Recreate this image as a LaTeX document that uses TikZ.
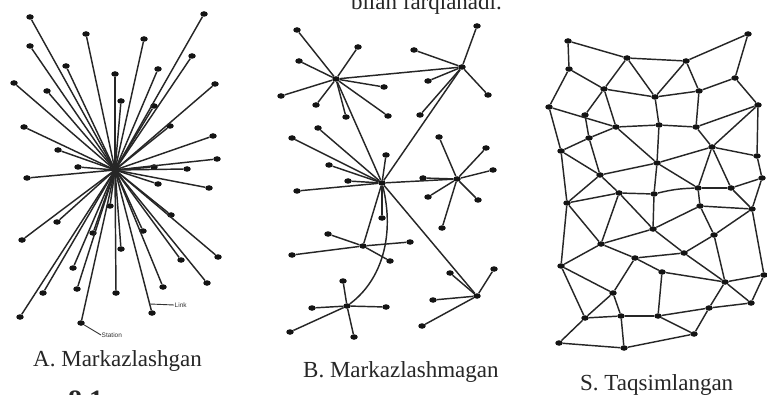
\documentclass[tikz,border=0pt]{standalone}
\usepackage{fontspec}
\setmainfont{Liberation Serif}
\newfontfamily\lblsans{Liberation Sans}
\usetikzlibrary{shapes.geometric}
\tikzset{
  dot/.style={ellipse,fill=black!92,draw=none,inner sep=0pt,minimum width=7.5pt,minimum height=5.5pt},
  edge/.style={line width=1.45pt,draw=black!85},
  captxt/.style={font=\fontsize{23}{25}\selectfont,inner sep=0pt,anchor=base west,text=black!85},
  tinylbl/.style={font=\lblsans\fontsize{6.5}{7}\selectfont,inner sep=0.5pt,anchor=west,text=black!80}
}
\begin{document}
\begin{tikzpicture}[x=1pt,y=-1pt]
\useasboundingbox (0,0) rectangle (767,395);
\fill[white] (0,0) rectangle (767,395);

% ---------------- A: centralized ----------------
\coordinate (ha) at (115,170);
\foreach \n/\x/\y in {a1/30/17,a2/204/14,a3/86/34,a4/144/39,a5/30/46,a6/192/56,a7/66/66,a8/158/69,
  a9/115/74,a10/14/83,a11/215/84,a12/47/91,a13/121/101,a14/154/106,a15/24/127,a16/170/126,
  a17/213/136,a18/58/150,a19/217/159,a20/78/167,a21/154/167,a22/187/169,a23/27/178,a24/158/184,
  a25/209/188,a26/110/206,a27/171/215,a28/57/222,a29/22/240,a30/93/233,a31/143/231,a32/121/249,
  a33/181/260,a34/218/257,a35/73/268,a36/207/283,a37/163/287,a38/77/289,a39/43/293,a40/116/293,
  a41/152/313,a42/20/317,a43/81/323}
  {\node[dot] (\n) at (\x,\y) {};}
\foreach \n in {a1,a2,a3,a4,a5,a6,a7,a8,a9,a10,a11,a12,a13,a14,a15,a16,a17,a18,a19,a20,a21,a22,
  a23,a24,a25,a26,a27,a28,a29,a30,a31,a32,a33,a34,a35,a36,a37,a38,a39,a40,a41,a42,a43}
  {\draw[edge] (\n) -- (ha);}
\coordinate (lk) at (150,304);
\node[tinylbl] (linklbl) at (174,305) {Link};
\draw[line width=0.9pt,black!80] (lk) -- (linklbl.west);
\node[tinylbl] (stlbl) at (101,335) {Station};
\draw[line width=0.9pt,black!80] (a43) -- (stlbl.west);
\node[captxt] (capA) at (33,366) {A. Markazlashgan};

% ---------------- B: decentralized ----------------
\foreach \n/\x/\y in {h1/336/79,h2/462/67,h3/382/183,h4/457/179,h5/363/246,h6/347/306,h7/477/296}
  {\node[dot] (\n) at (\x,\y) {};}
\foreach \n/\x/\y/\h in {b1/297/30/h1,b2/358/47/h1,b3/299/61/h1,b4/281/96/h1,b5/384/87/h1,b6/316/105/h1,
  b7/346/117/h1,b8/388/116/h1,
  b9/477/26/h2,b10/414/50/h2,b11/428/81/h2,b12/488/95/h2,b13/420/115/h2,
  b14/292/138/h3,b15/318/128/h3,b16/386/155/h3,b17/329/165/h3,b18/348/181/h3,b19/297/191/h3,b20/382/218/h3,
  b21/439/137/h4,b22/486/148/h4,b23/493/170/h4,b24/423/178/h4,b25/428/197/h4,b26/478/200/h4,b27/442/228/h4,
  b28/328/234/h5,b29/410/242/h5,b30/292/255/h5,b31/390/261/h5,
  b32/343/281/h6,b33/312/308/h6,b34/386/307/h6,b35/290/332/h6,b36/354/337/h6,
  b37/450/273/h7,b38/494/269/h7,b39/433/300/h7,b40/422/326/h7}
  {\node[dot] (\n) at (\x,\y) {}; \draw[edge] (\n) -- (\h);}
\foreach \p/\q in {h1/h2,h1/h3,h2/h3,h3/h4,h3/h5,h3/h7}
  {\draw[edge] (\p) -- (\q);}
\draw[edge] (h3) .. controls (395,235) and (382,280) .. (h6);
\node[captxt] (capB) at (303,377) {B. Markazlashmagan};

% ---------------- S: distributed ----------------
\foreach \n/\x/\y in {c1/568/41,c2/627/58,c3/686/61,c4/748/34,c5/569/69,c6/604/89,c7/655/97,c8/699/91,
  c9/735/78,c10/549/107,c11/585/115,c12/758/105,c13/616/127,c14/659/125,c15/696/127,c16/589/138,
  c17/561/151,c18/712/147,c19/757/156,c20/657/163,c21/600/175,c22/762/178,c23/619/193,c24/654/194,
  c25/698/188,c26/731/188,c27/567/203,c28/700/206,c29/752/209,c30/653/229,c31/714/235,c32/601/244,
  c33/561/266,c34/635/258,c35/684/253,c36/662/272,c37/725/282,c38/764/275,c39/613/293,c40/751/303,
  c41/709/308,c42/585/318,c43/621/316,c44/658/316,c45/694/334,c46/559/343,c47/624/348}
  {\node[dot] (\n) at (\x,\y) {};}
\foreach \p/\q in {c1/c2,c2/c3,c3/c4,c1/c5,c4/c9,c5/c6,c2/c6,c2/c7,c3/c7,c3/c8,c6/c7,c7/c8,c8/c9,
  c9/c12,c5/c10,c6/c11,c6/c13,c10/c13,c11/c16,c7/c14,c13/c14,c14/c15,c8/c15,c15/c12,c12/c18,c12/c19,
  c10/c17,c16/c13,c16/c17,c16/c21,c13/c20,c14/c20,c15/c18,c18/c19,c20/c18,c21/c20,c17/c21,c19/c22,
  c20/c24,c20/c25,c18/c25,c18/c26,c22/c26,c21/c23,c23/c24,c25/c26,c17/c27,c21/c27,c22/c29,
  c27/c23,c25/c28,c28/c29,c26/c29,c28/c30,c23/c32,c23/c30,c24/c30,c27/c32,c27/c33,c32/c33,c32/c30,
  c32/c34,c30/c35,c34/c35,c28/c31,c29/c31,c31/c35,c29/c38,c31/c37,c35/c37,c34/c36,c36/c37,c37/c38,
  c37/c40,c38/c40,c37/c41,c33/c39,c34/c39,c39/c42,c39/c43,c36/c44,c33/c42,c42/c43,c43/c44,c44/c41,
  c41/c40,c41/c45,c44/c45,c42/c46,c43/c47,c46/c47,c47/c45}
  {\draw[edge] (\p) -- (\q);}
\draw[edge] (c24) to[bend left=6] (c25);
\node[captxt] (capS) at (580,390) {S. Taqsimlangan};

% ---------------- cut-off page text ----------------
\node[captxt,anchor=base east] (toptext) at (502,10) {bilan farqlanadi.};
\node[captxt,anchor=base west,font=\bfseries\fontsize{28}{30}\selectfont] (figno) at (68,409) {8.1};
\end{tikzpicture}
\end{document}
